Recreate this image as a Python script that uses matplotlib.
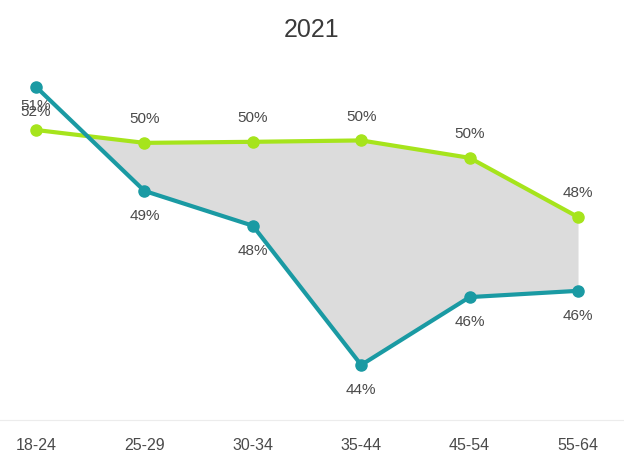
import matplotlib.pyplot as plt
import numpy as np

plt.rcParams["font.family"] = ["Liberation Sans", "DejaVu Sans"]

# age groups and share per group (percent)
age_groups = ["18-24", "25-29", "30-34", "35-44", "45-54", "55-64"]
green_share = [50.75, 50.38, 50.41, 50.45, 49.95, 48.25]
teal_share = [51.99, 49.0, 48.0, 44.0, 45.95, 46.13]

GREEN = "#a6e41c"
TEAL = "#1a9aa3"
TEXT = "#4a4a4a"

fig = plt.figure(figsize=(6.24, 4.55), dpi=100)
ax = fig.add_axes([0, 35 / 455, 1, 360 / 455])

x = np.arange(len(age_groups))
g = np.array(green_share)
t = np.array(teal_share)

ax.fill_between(x, t, g, where=g >= t, interpolate=True,
                color="#dcdcdc", linewidth=0, zorder=1)
ax.plot(x, g, color=GREEN, lw=3, marker="o", ms=8, zorder=3)
ax.plot(x, t, color=TEAL, lw=3, marker="o", ms=8, zorder=4)

for xi, v in zip(x, g):
    ax.annotate(f"{v:.0f}%", (xi, v), textcoords="offset points", xytext=(0, 17),
                ha="center", va="center", fontsize=11, color=TEXT)
for xi, v in zip(x, t):
    ax.annotate(f"{v:.0f}%", (xi, v), textcoords="offset points", xytext=(0, -18),
                ha="center", va="center", fontsize=11, color=TEXT)

ax.set_xlim(-0.332, 5.424)
ax.set_ylim(42.42, 52.76)
ax.set_xticks(x)
ax.set_xticklabels(age_groups, fontsize=11.5, color=TEXT)
ax.tick_params(axis="x", length=0, pad=13)
ax.set_yticks([])
for side in ["top", "left", "right"]:
    ax.spines[side].set_visible(False)
ax.spines["bottom"].set_color("#ececec")

fig.text(0.5, 1 - 30 / 455, "2021", ha="center", va="center",
         fontsize=18, color="#3a3a3a")

fig.savefig("out.png", dpi=100)
